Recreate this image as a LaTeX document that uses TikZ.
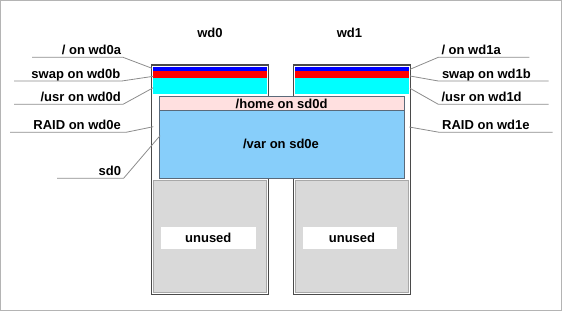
\documentclass[tikz,border=0pt]{standalone}
\usepackage{fontspec}
\setmainfont{Liberation Sans}
\definecolor{diskline}{HTML}{4A4A4A}
\definecolor{partline}{HTML}{5A6A7A}
\definecolor{leader}{HTML}{8C8C8C}
\definecolor{framegray}{HTML}{B4B4B4}
\definecolor{unusedfill}{HTML}{D9D9D9}
\definecolor{unusedline}{HTML}{A8A8A8}
\definecolor{homefill}{HTML}{FFE0E0}
\definecolor{varfill}{HTML}{87CEFA}
\definecolor{rootfill}{HTML}{0000FF}
\definecolor{swapfill}{HTML}{FF0000}
\definecolor{usrfill}{HTML}{00FFFF}
\begin{document}
\begin{tikzpicture}[x=1pt,y=-1pt,
  txt/.style={inner sep=0pt,font=\bfseries\fontsize{13}{15}\selectfont},
  lbll/.style={txt,anchor=base east},
  lblr/.style={txt,anchor=base west},
  leadline/.style={draw=leader,line width=0.8pt},
  diskbox/.style={draw=diskline,line width=1.1pt,fill=white},
  unusedbox/.style={draw=unusedline,line width=0.9pt,fill=unusedfill},
  partbox/.style={draw=partline,line width=0.8pt}]
\useasboundingbox (0,0) rectangle (562,311);
\draw[framegray,line width=1pt] (0.5,0.5) rectangle (561.5,310.5);

% disk titles
\node[txt,anchor=base] (wd0) at (210,37.3) {wd0};
\node[txt,anchor=base] (wd1) at (349.5,37.3) {wd1};

% disks
\foreach \n/\dx in {0/0,1/141.6}{
  \draw[diskbox] (151.7+\dx,65) rectangle (268.5+\dx,294.5);
  \fill[rootfill] (153.3+\dx,67.3) rectangle (267+\dx,70.7);
  \fill[swapfill] (153.3+\dx,70.7) rectangle (267+\dx,78.3);
  \fill[usrfill] (153.3+\dx,78.3) rectangle (267+\dx,94.3);
  \draw[unusedbox] (153.6+\dx,180.3) rectangle (266.6+\dx,292.8);
  \fill[white] (161+\dx,227.3) rectangle (255.5+\dx,249.3);
}
\node[txt] (unused0) at (208.3,238.3) {unused};
\node[txt] (unused1) at (352,238.3) {unused};

% sd0 partitions
\draw[partbox,fill=homefill] (159.3,96.7) rectangle (404,110);
\draw[partbox,fill=varfill] (159.3,110) rectangle (404,178.3);
\node[txt] (home) at (281.6,103.6) {/home on sd0d};
\node[txt] (var) at (281,144) {/var on sd0e};

% left labels
\node[lbll] (la) at (121.3,54.3) {/ on wd0a};
\node[lbll] (lb) at (120.5,78) {swap on wd0b};
\node[lbll] (ld) at (121,101.3) {/usr on wd0d};
\node[lbll] (le) at (121,129.3) {RAID on wd0e};
\node[lbll] (ls) at (121.3,175.3) {sd0};

\coordinate (la1) at (32,57.3);  \coordinate (la2) at (123,57.3);  \coordinate (la3) at (152,68.3);
\coordinate (lb1) at (14,81);    \coordinate (lb2) at (121.7,81);  \coordinate (lb3) at (153.3,76.3);
\coordinate (ld1) at (14,104.3); \coordinate (ld2) at (123,104.3); \coordinate (ld3) at (153.3,87.7);
\coordinate (le1) at (10,132.3); \coordinate (le2) at (126,132.3); \coordinate (le3) at (153.3,126.7);
\coordinate (ls1) at (57,178.3); \coordinate (ls2) at (123.6,178.3); \coordinate (ls3) at (160,135.7);
\foreach \k in {la,lb,ld,le,ls}{\draw[leadline] (\k1) -- (\k2) -- (\k3);}

% right labels
\node[lblr] (ra) at (441.3,54.3) {/ on wd1a};
\node[lblr] (rb) at (441.8,78) {swap on wd1b};
\node[lblr] (rd) at (441.3,101.3) {/usr on wd1d};
\node[lblr] (re) at (442,129.3) {RAID on wd1e};

\coordinate (ra1) at (529.3,57.3); \coordinate (ra2) at (438.3,57.3); \coordinate (ra3) at (410,69.3);
\coordinate (rb1) at (548.7,81);   \coordinate (rb2) at (438.3,81);   \coordinate (rb3) at (410,76);
\coordinate (rd1) at (548.7,104.3);\coordinate (rd2) at (438.3,104.3);\coordinate (rd3) at (410,88.3);
\coordinate (re1) at (552.7,132.3);\coordinate (re2) at (439.3,132.3);\coordinate (re3) at (409.3,127);
\foreach \k in {ra,rb,rd,re}{\draw[leadline] (\k1) -- (\k2) -- (\k3);}
\end{tikzpicture}
\end{document}
